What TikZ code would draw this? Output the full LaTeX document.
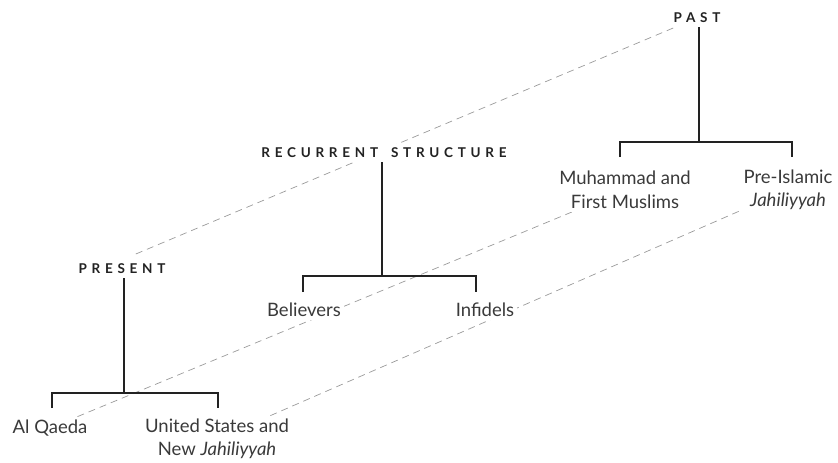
\documentclass[tikz,border=0pt]{standalone}
\usepackage{fontspec}
\setmainfont{Lato}
\newfontfamily\headfont[LetterSpace=35]{Lato}
\usetikzlibrary{backgrounds}
\definecolor{ink}{HTML}{3A3A3A}
\definecolor{headink}{HTML}{222222}
\definecolor{dashgrey}{HTML}{9A9A9A}
\begin{document}
\begin{tikzpicture}[x=1pt,y=-1pt,
  head/.style={font=\headfont\bfseries\fontsize{13.5}{15}\selectfont, text=headink, fill=white, inner sep=4pt},
  item/.style={font=\fontsize{18.5}{23.5}\selectfont, text=ink, align=center, fill=white, inner sep=3pt},
  tree/.style={line width=1.4pt, draw=headink},
  link/.style={draw=dashgrey, line width=0.7pt, dash pattern=on 7pt off 5pt}]
\useasboundingbox (0,0) rectangle (838,463);
% nodes
\node[head] (past) at (697,18) {PAST};
\node[item] (muh) at (625,190) {Muhammad and\\First Muslims};
\node[item] (pre) at (788,190) {Pre-Islamic\\\textit{Jahiliyyah}};
\node[head] (rec) at (384,153) {\mbox{RECURRENT}\kern 13pt\mbox{STRUCTURE}};
\node[item] (bel) at (304,310) {Believers};
\node[item] (inf) at (485,310) {Infidels};
\node[head] (pres) at (122,269) {PRESENT};
\node[item] (alq) at (50,428) {Al Qaeda};
\node[item] (us) at (217,439) {United States and\\New \textit{Jahiliyyah}};
% tree coordinates
\coordinate (pastbar) at (699,142);
\coordinate (pastL) at (620,142);
\coordinate (pastR) at (792,142);
\coordinate (pastLt) at (620,157);
\coordinate (pastRt) at (792,157);
\coordinate (recbar) at (382,276);
\coordinate (recL) at (303,276);
\coordinate (recR) at (476,276);
\coordinate (recLt) at (303,292);
\coordinate (recRt) at (476,292);
\coordinate (presbar) at (124,393);
\coordinate (presL) at (52,393);
\coordinate (presR) at (218,393);
\coordinate (presLt) at (52,408);
\coordinate (presRt) at (218,408);
% trees
\draw[tree] (past.south -| pastbar) -- (pastbar);
\draw[tree] (pastLt) -- (pastL) -- (pastR) -- (pastRt);
\draw[tree] (rec.south -| recbar) -- (recbar);
\draw[tree] (recLt) -- (recL) -- (recR) -- (recRt);
\draw[tree] (pres.south -| presbar) -- (presbar);
\draw[tree] (presLt) -- (presL) -- (presR) -- (presRt);
% dashed links
\begin{scope}[on background layer]
\draw[link, shorten <=15pt] (pres.north) -- (past);
\draw[link] (alq) -- (muh);
\draw[link] (us) -- (pre);
\end{scope}
\end{tikzpicture}
\end{document}
